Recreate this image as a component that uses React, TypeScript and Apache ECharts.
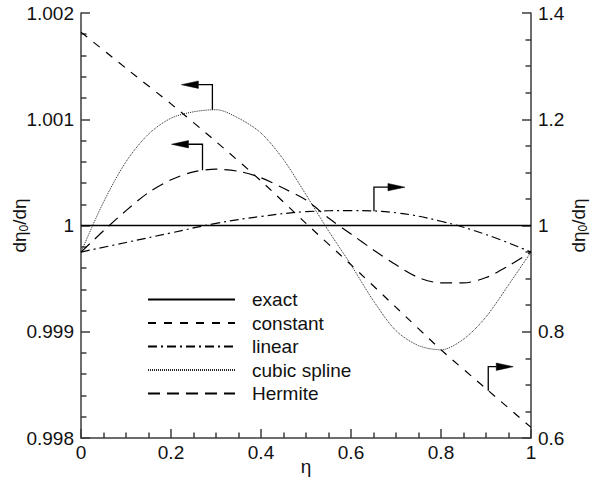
import React, { useEffect, useRef } from 'react';
import * as echarts from 'echarts';

// ---------- data ----------
const seriesNames = ['exact', 'constant', 'linear', 'cubic spline', 'Hermite'];

const exactEta = [0, 1];
const exactValues = [1, 1]; // left axis

const coarseEta = [0, 0.1, 0.2, 0.3, 0.4, 0.5, 0.6, 0.7, 0.8, 0.9, 1];
const constantValues = [1.364, 1.296, 1.229, 1.158, 1.084, 1.004, 0.926, 0.846, 0.766, 0.693, 0.62]; // right axis
const linearValues = [0.95, 0.968, 0.986, 1.004, 1.017, 1.026, 1.028, 1.024, 1.008, 0.983, 0.95]; // right axis

const fineEta = [0, 0.05, 0.1, 0.15, 0.2, 0.25, 0.3, 0.35, 0.4, 0.45, 0.5, 0.55, 0.6, 0.65, 0.7, 0.75, 0.8, 0.85, 0.9, 0.95, 1];
const cubicValues = [0.99975, 1.00022, 1.0006, 1.00086, 1.00101, 1.00107, 1.00109, 1.00101, 1.00087, 1.00062, 1.00029, 0.99995, 0.99963, 0.99929, 0.99901, 0.99887, 0.99883, 0.99893, 0.99914, 0.99944, 0.99975]; // left axis
const hermiteValues = [0.99975, 0.99995, 1.00014, 1.00031, 1.00043, 1.000505, 1.00053, 1.00051, 1.00045, 1.00035, 1.00024, 1.00007, 0.99992, 0.99977, 0.99963, 0.99951, 0.99946, 0.99946, 0.99951, 0.99962, 0.99975]; // left axis

const xTicks = [0, 0.2, 0.4, 0.6, 0.8, 1];
const leftTicks = [0.998, 0.999, 1, 1.001, 1.002];
const rightTicks = [0.6, 0.8, 1, 1.2, 1.4];

// arrows: which series they point at, anchor on that series, direction
const arrowSeries = [3, 4, 2, 1];
const arrowEta = [0.292, 0.27, 0.651, 0.905];
const arrowValue = [1.00109, 1.00052, 1.027, 0.689];
const arrowDir = [-1, -1, 1, 1];

const zip = (xs: number[], ys: number[]) => xs.map((x, i) => [x, ys[i]]);

export default function App() {
  const ref = useRef<HTMLDivElement>(null);
  useEffect(() => {
    document.body.style.margin = '0';
    const chart = echarts.init(ref.current!, null, { renderer: 'svg' });
    const font = "'Liberation Sans', Arial, Helvetica, sans-serif";
    const axisColor = '#3c3c3c';
    const axisLine = { show: true, onZero: false, lineStyle: { color: axisColor, width: 1.5 } };
    const axisTick = { show: true, inside: true, length: 9, lineStyle: { color: axisColor, width: 1.5 } };
    const minorTickStyle = { show: true, length: 5.5, lineStyle: { color: axisColor, width: 1.5 } };
    const labelStyle = { fontSize: 19, fontFamily: font, color: '#111' };
    const fmt = (v: number) => String(parseFloat(v.toFixed(4)));
    const nameRich = {
      a: { fontSize: 19, fontFamily: font, color: '#111' },
      s: { fontSize: 12, fontFamily: font, color: '#111', padding: [9, 0, 0, 0] },
    };
    const lineBase = { type: 'line', symbol: 'none', showSymbol: false, animation: false };

    chart.setOption({
      animation: false,
      backgroundColor: '#ffffff',
      grid: { left: 81, right: 81, top: 13, bottom: 46, containLabel: false, outerBoundsMode: 'none' },
      legend: {
        show: true,
        orient: 'vertical',
        left: 147,
        top: 290,
        padding: 0,
        itemWidth: 87,
        itemHeight: 14,
        itemGap: 4.5,
        selectedMode: false,
        data: seriesNames,
        itemStyle: { opacity: 0, borderWidth: 0 },
        textStyle: { fontSize: 19, fontFamily: font, color: '#111', lineHeight: 19, padding: [0, 0, 0, 12] },
      },
      xAxis: {
        type: 'value',
        min: xTicks[0],
        max: xTicks[xTicks.length - 1],
        interval: xTicks[1] - xTicks[0],
        name: 'η',
        nameLocation: 'middle',
        nameGap: 19,
        nameMoveOverlap: false,
        nameTextStyle: { fontSize: 19, fontFamily: font, color: '#111' },
        axisLine,
        axisTick,
        minorTick: { ...minorTickStyle, splitNumber: 4 },
        splitLine: { show: false },
        axisLabel: { ...labelStyle, margin: 5, formatter: fmt },
      },
      yAxis: [
        {
          type: 'value',
          position: 'left',
          min: leftTicks[0],
          max: leftTicks[leftTicks.length - 1],
          interval: 0.001,
          name: '{a|dη}{s|0}{a|/dη}',
          nameLocation: 'middle',
          nameRotate: 90,
          nameGap: 51,
          nameMoveOverlap: false,
          nameTextStyle: { fontSize: 19, fontFamily: font, color: '#111', rich: nameRich },
          axisLine,
          axisTick,
          minorTick: { ...minorTickStyle, splitNumber: 5 },
          splitLine: { show: false },
          axisLabel: { ...labelStyle, margin: 7, formatter: fmt },
        },
        {
          type: 'value',
          position: 'right',
          min: rightTicks[0],
          max: rightTicks[rightTicks.length - 1],
          interval: 0.2,
          name: '{a|dη}{s|0}{a|/dη}',
          nameLocation: 'middle',
          nameRotate: 90,
          nameGap: 37,
          nameMoveOverlap: false,
          nameTextStyle: { fontSize: 19, fontFamily: font, color: '#111', rich: nameRich },
          axisLine,
          axisTick,
          minorTick: { ...minorTickStyle, splitNumber: 4 },
          splitLine: { show: false },
          axisLabel: { ...labelStyle, margin: 7, formatter: fmt },
        },
      ],
      series: [
        {
          ...lineBase,
          name: seriesNames[0],
          yAxisIndex: 0,
          data: zip(exactEta, exactValues),
          lineStyle: { color: '#000', width: 1.3, type: 'solid' },
          itemStyle: { color: '#000' },
        },
        {
          ...lineBase,
          name: seriesNames[1],
          yAxisIndex: 1,
          smooth: 0.2,
          data: zip(coarseEta, constantValues),
          lineStyle: { color: '#000', width: 1.2, type: [8, 8] },
          itemStyle: { color: '#000' },
        },
        {
          ...lineBase,
          name: seriesNames[2],
          yAxisIndex: 1,
          smooth: 0.4,
          data: zip(coarseEta, linearValues),
          lineStyle: { color: '#000', width: 1.2, type: [9, 4, 2, 4] },
          itemStyle: { color: '#000' },
        },
        {
          ...lineBase,
          name: seriesNames[3],
          yAxisIndex: 0,
          smooth: 0.3,
          data: zip(fineEta, cubicValues),
          lineStyle: { color: '#222', width: 1, type: [1, 1] },
          itemStyle: { color: '#222' },
        },
        {
          ...lineBase,
          name: seriesNames[4],
          yAxisIndex: 0,
          smooth: 0.3,
          data: zip(fineEta, hermiteValues),
          lineStyle: { color: '#000', width: 1.2, type: [12, 7] },
          itemStyle: { color: '#000' },
        },
      ],
    });

    const rise = [25, 26, 24, 24];
    const stem = [14, 14, 14, 8];
    const head = 17;
    const half = 3.7;
    const graphics: any[] = [];
    arrowEta.forEach((eta, i) => {
      const p = chart.convertToPixel({ seriesIndex: arrowSeries[i] }, [eta, arrowValue[i]]) as number[];
      if (!p) return;
      const [x, y] = p;
      const yt = y - rise[i];
      const d = arrowDir[i];
      const xs = x + d * stem[i];
      graphics.push({
        type: 'polyline',
        shape: { points: [[x, y], [x, yt], [xs, yt]] },
        style: { stroke: '#000', lineWidth: 1.3, fill: null },
        z: 10,
      });
      graphics.push({
        type: 'polygon',
        shape: { points: [[xs, yt - half], [xs, yt + half], [xs + d * head, yt]] },
        style: { fill: '#000', stroke: '#000', lineWidth: 0.5 },
        z: 10,
      });
    });
    chart.setOption({ graphic: graphics });

    return () => chart.dispose();
  }, []);
  return (
    <div
      ref={ref}
      style={{ position: 'absolute', left: 0, top: 0, width: 612, height: 484, background: '#fff' }}
    />
  );
}
